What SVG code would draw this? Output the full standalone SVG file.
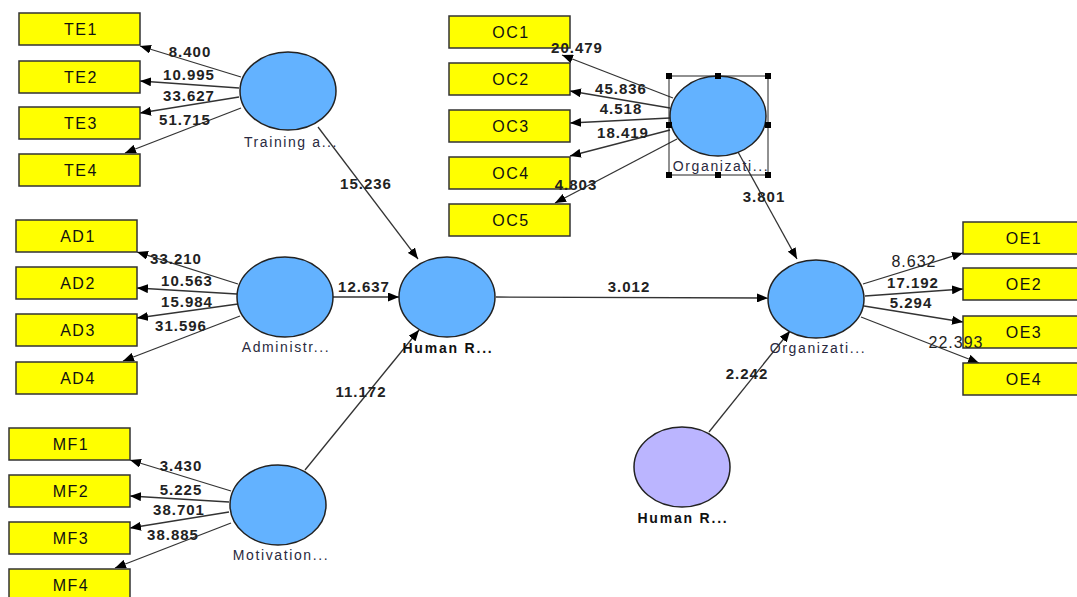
<svg xmlns="http://www.w3.org/2000/svg" width="1077" height="597" viewBox="0 0 1077 597">
<style>
.box{fill:#FFFF00;stroke:#333;stroke-width:1.5}
.bt{font-family:"Liberation Sans",Arial,sans-serif;font-size:16px;fill:#111;text-anchor:middle;letter-spacing:1.5px}
.lv{fill:#63B2FF;stroke:#222;stroke-width:1.5}
.lvp{fill:#BBB5FF;stroke:#222;stroke-width:1.5}
.nl{font-family:"Liberation Sans",Arial,sans-serif;font-size:14px;fill:#2a2a40;text-anchor:middle;letter-spacing:1.6px}
.nb{font-weight:bold;fill:#111;letter-spacing:1.8px}
.num{font-family:"Liberation Sans",Arial,sans-serif;font-size:15px;font-weight:bold;fill:#222;text-anchor:middle;letter-spacing:1px}
.nn{font-weight:normal;font-size:16px}
.c line{stroke:#333;stroke-width:1.3;marker-end:url(#ah)}
.h{fill:#000}
</style>
<defs>
<marker id="ah" markerUnits="userSpaceOnUse" markerWidth="11" markerHeight="9" refX="11" refY="4.5" orient="auto">
<path d="M0,0 L11,4.5 L0,9 z" fill="#000"/>
</marker>
</defs>
<rect width="1077" height="597" fill="#fff"/>
<g class="c" id="connectors">
<line x1="241" y1="77" x2="140" y2="46"/>
<line x1="239" y1="88" x2="140" y2="81"/>
<line x1="239" y1="97" x2="140" y2="113"/>
<line x1="241" y1="108" x2="125" y2="153"/>
<line x1="238" y1="284" x2="137" y2="252"/>
<line x1="237" y1="294" x2="137" y2="288"/>
<line x1="238" y1="304" x2="137" y2="318"/>
<line x1="240" y1="316" x2="123" y2="361"/>
<line x1="231" y1="491" x2="130" y2="460"/>
<line x1="229" y1="502" x2="130" y2="496"/>
<line x1="229" y1="512" x2="130" y2="528"/>
<line x1="231" y1="523" x2="115" y2="568"/>
<line x1="673" y1="98" x2="562" y2="55"/>
<line x1="670" y1="108" x2="570" y2="91"/>
<line x1="670" y1="118" x2="570" y2="123"/>
<line x1="670" y1="130" x2="570" y2="156"/>
<line x1="677" y1="139" x2="555" y2="203"/>
<line x1="863" y1="284" x2="963" y2="253"/>
<line x1="865" y1="296" x2="963" y2="289"/>
<line x1="864" y1="306" x2="963" y2="322"/>
<line x1="861" y1="317" x2="979" y2="363"/>
<line x1="318" y1="127" x2="418" y2="259"/>
<line x1="333" y1="297" x2="399" y2="297"/>
<line x1="305" y1="470" x2="419" y2="330"/>
<line x1="496" y1="297" x2="768" y2="298"/>
<line x1="738" y1="152" x2="797" y2="259"/>
<line x1="709" y1="432" x2="790" y2="331"/>
</g>
<g id="TE1"><rect class="box" x="19" y="13" width="121" height="32"/><text class="bt" x="81" y="35">TE1</text></g>
<g id="TE2"><rect class="box" x="19" y="61" width="121" height="32"/><text class="bt" x="81" y="83">TE2</text></g>
<g id="TE3"><rect class="box" x="19" y="107" width="121" height="32"/><text class="bt" x="81" y="129">TE3</text></g>
<g id="TE4"><rect class="box" x="19" y="154" width="121" height="32"/><text class="bt" x="81" y="176">TE4</text></g>
<g id="AD1"><rect class="box" x="16" y="220" width="121" height="32"/><text class="bt" x="78" y="242">AD1</text></g>
<g id="AD2"><rect class="box" x="16" y="267" width="121" height="32"/><text class="bt" x="78" y="289">AD2</text></g>
<g id="AD3"><rect class="box" x="16" y="314" width="121" height="32"/><text class="bt" x="78" y="336">AD3</text></g>
<g id="AD4"><rect class="box" x="16" y="362" width="121" height="32"/><text class="bt" x="78" y="384">AD4</text></g>
<g id="MF1"><rect class="box" x="9" y="428" width="121" height="32"/><text class="bt" x="71" y="450">MF1</text></g>
<g id="MF2"><rect class="box" x="9" y="475" width="121" height="32"/><text class="bt" x="71" y="497">MF2</text></g>
<g id="MF3"><rect class="box" x="9" y="522" width="121" height="32"/><text class="bt" x="71" y="544">MF3</text></g>
<g id="MF4"><rect class="box" x="9" y="569" width="121" height="32"/><text class="bt" x="71" y="591">MF4</text></g>
<g id="OC1"><rect class="box" x="449" y="16" width="121" height="32"/><text class="bt" x="511" y="38">OC1</text></g>
<g id="OC2"><rect class="box" x="449" y="63" width="121" height="32"/><text class="bt" x="511" y="85">OC2</text></g>
<g id="OC3"><rect class="box" x="449" y="110" width="121" height="32"/><text class="bt" x="511" y="132">OC3</text></g>
<g id="OC4"><rect class="box" x="449" y="157" width="121" height="32"/><text class="bt" x="511" y="179">OC4</text></g>
<g id="OC5"><rect class="box" x="449" y="204" width="121" height="32"/><text class="bt" x="511" y="226">OC5</text></g>
<g id="OE1"><rect class="box" x="963" y="222" width="121" height="32"/><text class="bt" x="1024" y="244">OE1</text></g>
<g id="OE2"><rect class="box" x="963" y="268" width="121" height="32"/><text class="bt" x="1024" y="290">OE2</text></g>
<g id="OE3"><rect class="box" x="963" y="316" width="121" height="32"/><text class="bt" x="1024" y="338">OE3</text></g>
<g id="OE4"><rect class="box" x="963" y="363" width="121" height="32"/><text class="bt" x="1024" y="385">OE4</text></g>
<g id="TrainingLV"><ellipse class="lv" cx="288" cy="91" rx="48" ry="39"/><text class="nl" x="291" y="147">Training a...</text></g>
<g id="AdminLV"><ellipse class="lv" cx="285" cy="297" rx="48" ry="40"/><text class="nl" x="286" y="352">Administr...</text></g>
<g id="MotivationLV"><ellipse class="lv" cx="278" cy="505" rx="48" ry="40"/><text class="nl" x="281" y="560">Motivation...</text></g>
<g id="HumanRLV"><ellipse class="lv" cx="447" cy="297" rx="48" ry="40"/><text class="nl nb" x="448" y="353">Human R...</text></g>
<g id="OrgCLV"><ellipse class="lv" cx="718" cy="116" rx="48" ry="40"/><text class="nl" x="721" y="171">Organizati...</text>
<rect x="669" y="76" width="99" height="99" fill="none" stroke="#222" stroke-width="1"/>
<rect class="h" x="666" y="73" width="6" height="6"/><rect class="h" x="715" y="73" width="6" height="6"/><rect class="h" x="765" y="73" width="6" height="6"/>
<rect class="h" x="666" y="122" width="6" height="6"/><rect class="h" x="765" y="122" width="6" height="6"/>
<rect class="h" x="666" y="172" width="6" height="6"/><rect class="h" x="715" y="172" width="6" height="6"/><rect class="h" x="765" y="172" width="6" height="6"/>
</g>
<g id="OrgELV"><ellipse class="lv" cx="816" cy="299" rx="48" ry="39"/><text class="nl" x="818" y="353">Organizati...</text></g>
<g id="HumanR2LV"><ellipse class="lvp" cx="682" cy="467" rx="48" ry="40"/><text class="nl nb" x="683" y="523">Human R...</text></g>
<g id="labels">
<text class="num" x="190" y="57">8.400</text>
<text class="num" x="189" y="80">10.995</text>
<text class="num" x="189" y="101">33.627</text>
<text class="num" x="185" y="125">51.715</text>
<text class="num" x="366" y="189">15.236</text>
<text class="num" x="176" y="264">33.210</text>
<text class="num" x="187" y="286">10.563</text>
<text class="num" x="187" y="307">15.984</text>
<text class="num" x="181" y="331">31.596</text>
<text class="num" x="364" y="292">12.637</text>
<text class="num" x="361" y="397">11.172</text>
<text class="num" x="181" y="471">3.430</text>
<text class="num" x="181" y="495">5.225</text>
<text class="num" x="179" y="515">38.701</text>
<text class="num" x="173" y="540">38.885</text>
<text class="num" x="577" y="53">20.479</text>
<text class="num" x="621" y="94">45.836</text>
<text class="num" x="621" y="114">4.518</text>
<text class="num" x="623" y="138">18.419</text>
<text class="num" x="576" y="190">4.803</text>
<text class="num" x="764" y="202">3.801</text>
<text class="num" x="629" y="292">3.012</text>
<text class="num" x="747" y="379">2.242</text>
<text class="num nn" x="914" y="267">8.632</text>
<text class="num" x="913" y="288">17.192</text>
<text class="num" x="911" y="308">5.294</text>
<text class="num nn" x="956" y="348">22.393</text>
</g>
</svg>
